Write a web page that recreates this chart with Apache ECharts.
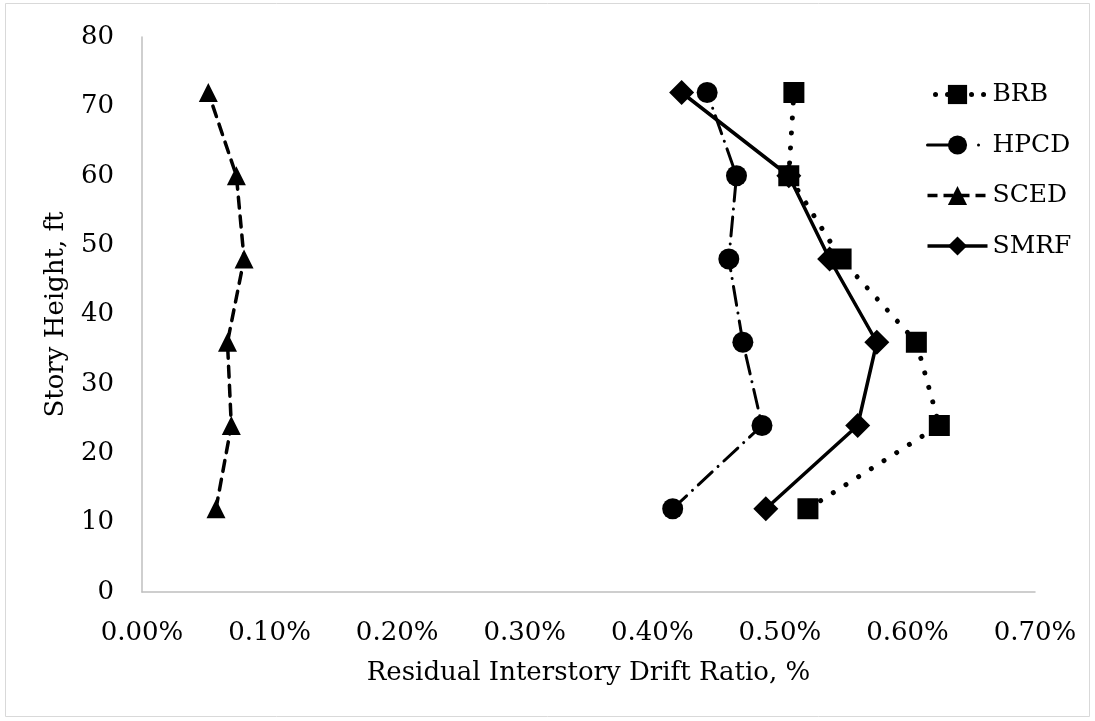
<!DOCTYPE html>
<html>
<head>
<meta charset="utf-8">
<script src="https://cdn.jsdelivr.net/npm/echarts@6/dist/echarts.min.js"></script>
<style>
  html, body { margin: 0; padding: 0; background: #ffffff; }
  #chart { width: 1095px; height: 721px; }
</style>
</head>
<body>
<div id="chart"></div>
<script>
// Story heights (ft) at which residual drift is reported
const heights = [12, 24, 36, 48, 60, 72];

// Residual interstory drift ratio (%) per system, bottom to top
const brb  = [0.522, 0.625, 0.607, 0.548, 0.507, 0.511];
const hpcd = [0.416, 0.486, 0.471, 0.460, 0.466, 0.443];
const sced = [0.058, 0.070, 0.067, 0.080, 0.074, 0.052];
const smrf = [0.489, 0.561, 0.576, 0.539, 0.507, 0.423];

const seriesNames = ['BRB', 'HPCD', 'SCED', 'SMRF'];
const xTickMax = 0.7;
const yTickMax = 80;

const FONT = 'DejaVu Serif';
const pairs = vals => vals.map((v, i) => [v, heights[i]]);

// Line styles shared by the series and their legend entries
const styles = {
  BRB:  { width: 5, type: [0.01, 15], cap: 'round' },
  HPCD: { width: 3, type: [19, 8, 0.01, 8], cap: 'round' },
  SCED: { width: 3.5, type: [11, 8], cap: 'round' },
  SMRF: { width: 3.5, type: 'solid' }
};
const legendStyles = {
  BRB:  { width: 5, type: [0.01, 12], cap: 'round', dashOffset: 4 },
  HPCD: { width: 3, type: [24, 27, 0.01, 30], cap: 'round', dashOffset: 0 },
  SCED: { width: 3.5, type: [10, 6], cap: 'butt', dashOffset: 0 },
  SMRF: { width: 3.5, type: 'solid' }
};

const chart = echarts.init(document.getElementById('chart'), null, { renderer: 'canvas' });

const baseSeries = (name, vals, symbol, size) => ({
  name,
  type: 'line',
  data: pairs(vals),
  symbol,
  symbolSize: size,
  showSymbol: true,
  itemStyle: { color: '#000000' },
  lineStyle: Object.assign({ color: '#000000' }, styles[name]),
  emphasis: { disabled: true },
  animation: false
});

chart.setOption({
  backgroundColor: '#ffffff',
  animation: false,
  graphic: [{
    type: 'rect',
    shape: { x: 5.5, y: 3.5, width: 1084, height: 713 },
    style: { fill: 'none', stroke: '#d9d9d9', lineWidth: 1 },
    silent: true,
    z: -10
  }],
  grid: { left: 142, right: 60, top: 37, bottom: 129, containLabel: false },
  xAxis: {
    type: 'value',
    min: 0,
    max: xTickMax,
    interval: 0.1,
    name: 'Residual Interstory Drift Ratio, %',
    nameLocation: 'middle',
    nameGap: 68,
    nameTextStyle: { fontFamily: FONT, fontSize: 26, color: '#000000' },
    axisLine: { show: true, lineStyle: { color: '#bfbfbf', width: 1.5 } },
    axisTick: { show: false },
    splitLine: { show: false },
    axisLabel: {
      fontFamily: FONT, fontSize: 26, color: '#000000', margin: 28,
      formatter: v => v.toFixed(2) + '%'
    }
  },
  yAxis: {
    type: 'value',
    min: 0,
    max: yTickMax,
    interval: 10,
    name: 'Story Height, ft',
    nameLocation: 'middle',
    nameGap: 73,
    nameRotate: 90,
    nameTextStyle: { fontFamily: FONT, fontSize: 26, color: '#000000' },
    axisLine: { show: true, lineStyle: { color: '#bfbfbf', width: 1.5 } },
    axisTick: { show: false },
    splitLine: { show: false },
    axisLabel: { fontFamily: FONT, fontSize: 26, color: '#000000', margin: 28 }
  },
  legend: {
    data: seriesNames.map(n => ({ name: n, lineStyle: Object.assign({ color: '#000000' }, legendStyles[n]) })),
    orient: 'vertical',
    left: 920,
    top: 77,
    itemWidth: 60,
    itemHeight: 24,
    itemGap: 25.5,
    itemTextGap: 1,
    textStyle: { fontFamily: FONT, fontSize: 25, color: '#000000', lineHeight: 24 },
    selectedMode: false
  },
  series: [
    baseSeries('BRB', brb, 'rect', 21),
    baseSeries('HPCD', hpcd, 'circle', 21),
    baseSeries('SCED', sced, 'triangle', 19),
    baseSeries('SMRF', smrf, 'diamond', 25)
  ]
});
</script>
</body>
</html>
